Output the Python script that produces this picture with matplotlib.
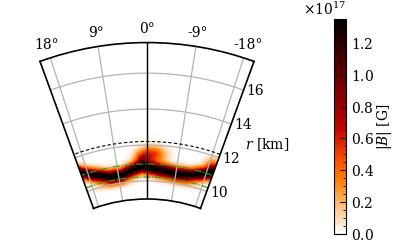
import numpy as np
import matplotlib
matplotlib.use('Agg')
import matplotlib.pyplot as plt
from matplotlib.ticker import AutoMinorLocator

plt.rcParams['font.family'] = ['DejaVu Serif']
plt.rcParams['mathtext.fontset'] = 'dejavuserif'
plt.rcParams['font.size'] = 10
plt.rcParams['axes.formatter.use_mathtext'] = True

# ---- axes / ticks ----
theta_ticks_deg = [18, 9, 0, -9, -18]
theta_tick_labels = ['18°', '9°', '0°', '-9°', '-18°']
r_ticks = [10, 12, 14, 16]
r_tick_labels = ['10', '12', '14', '16']
cbar_ticks = [0.0, 0.2e17, 0.4e17, 0.6e17, 0.8e17, 1.0e17, 1.2e17]

# ---- field: dark band (centre line) ----
band_theta_deg = [20, 17, 12, 8, 4, 1.5, 0, -3.6, -9, -13, -17, -20]
band_r_km = [11.12, 10.8, 10.45, 10.42, 10.68, 10.82, 10.76, 10.64, 10.54, 10.6, 10.85, 11.1]
band_peak_G = [1.30e17, 1.35e17, 1.40e17, 1.38e17, 1.35e17, 1.40e17, 1.35e17, 1.32e17, 1.38e17, 1.35e17, 1.35e17, 1.30e17]
band_sigma_km = [0.26, 0.26, 0.25, 0.25, 0.26, 0.26, 0.26, 0.26, 0.25, 0.25, 0.26, 0.27]

# secondary (fainter) blobs
blob_theta_deg = [-1.5, 1.5, -19.0, 11.0, -11.0]
blob_r_km = [11.5, 11.3, 11.45, 10.0, 10.1]
blob_amp_G = [0.55e17, 0.35e17, 0.40e17, 0.18e17, 0.15e17]
blob_wtheta_deg = [2.5, 1.5, 1.5, 4.0, 4.0]
blob_wr_km = [0.30, 0.25, 0.30, 0.15, 0.15]

# ---- overlay circles ----
green_r_km = [10.95, 10.22]
dashed_r_km = [12.2]

r_min, r_max = 9.0, 17.7
theta_min, theta_max = -20, 20
vmax = 1.35e17

fig = plt.figure(figsize=(3.97, 2.45), dpi=100)
ax = fig.add_axes([14.5 / 397, 12.5 / 245, 265 / 397, 214 / 245], projection='polar')
ax.set_theta_zero_location('N')
ax.set_thetamin(theta_min)
ax.set_thetamax(theta_max)
ax.set_rorigin(0.3)
ax.set_rlim(r_min, r_max)

# build field on a grid
th_edges = np.deg2rad(np.linspace(theta_min, theta_max, 161))
r_edges = np.linspace(r_min, r_max, 349)
th_c = 0.5 * (th_edges[:-1] + th_edges[1:])
r_c = 0.5 * (r_edges[:-1] + r_edges[1:])
TH, R = np.meshgrid(th_c, r_c)
th_deg = np.rad2deg(TH)
order = np.argsort(band_theta_deg)
bt = np.array(band_theta_deg)[order]
rc = np.interp(th_deg, bt, np.array(band_r_km)[order])
pk = np.interp(th_deg, bt, np.array(band_peak_G)[order])
sg = np.interp(th_deg, bt, np.array(band_sigma_km)[order])
B = pk * np.exp(-0.5 * ((R - rc) / sg) ** 2)
for t0, r0, a, wt, wr in zip(blob_theta_deg, blob_r_km, blob_amp_G, blob_wtheta_deg, blob_wr_km):
    B = B + a * np.exp(-0.5 * ((th_deg - t0) / wt) ** 2 - 0.5 * ((R - r0) / wr) ** 2)

mesh = ax.pcolormesh(th_edges, r_edges, B, cmap='gist_heat_r', vmin=0, vmax=vmax,
                     shading='flat', rasterized=True)

ax.grid(True, color='#b4b4b4', lw=0.9)
ax.set_xticks(np.deg2rad(theta_ticks_deg))
ax.set_xticklabels(theta_tick_labels)
ax.set_yticks(r_ticks)
ax.set_yticklabels(r_tick_labels)
ax.set_rlabel_position(-20)
ax.tick_params(axis='x', labelsize=10, pad=-1)
ax.tick_params(axis='y', labelsize=10, pad=-1)

tt = np.deg2rad(np.linspace(theta_min, theta_max, 200))
for rg in green_r_km:
    ax.plot(tt, np.full_like(tt, rg), color='#2ca02c', ls='-.', lw=0.8)
for rd in dashed_r_km:
    ax.plot(tt, np.full_like(tt, rd), color='black', ls='--', lw=0.8, dashes=(3, 2))
ax.plot([0, 0], [r_min, r_max], color='black', lw=1.0)
for sp in ax.spines.values():
    sp.set_linewidth(1.2)

fig.text(267 / 397, 1 - 145 / 245, r'$r$ [km]', ha='center', va='center', fontsize=10)

cax = fig.add_axes([334 / 397, 11 / 245, 12 / 397, 215 / 245])
cb = fig.colorbar(mesh, cax=cax)
cb.set_ticks(cbar_ticks)
cb.ax.yaxis.set_minor_locator(AutoMinorLocator(4))
cb.ax.tick_params(which='major', direction='in', length=4, width=0.8, labelsize=10)
cb.ax.tick_params(which='minor', direction='in', length=2, width=0.6)
cb.set_label(r'$|B|$ [G]', fontsize=10, labelpad=0.5)
cb.outline.set_linewidth(0.8)

fig.savefig('out.png', dpi=100)
